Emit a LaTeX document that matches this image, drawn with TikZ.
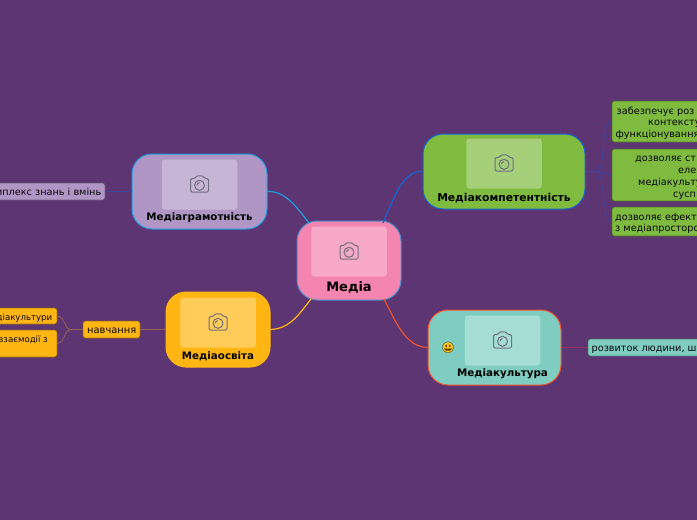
\documentclass[tikz,border=0pt]{standalone}
\usepackage{fontspec}
\setmainfont{DejaVu Sans}
\newfontfamily\emojifont{Noto Emoji}
\definecolor{bgc}{HTML}{5D3573}
\definecolor{pinkc}{HTML}{F485B0}
\definecolor{lilac}{HTML}{B096C5}
\definecolor{amber}{HTML}{FFB612}
\definecolor{greenc}{HTML}{7FBB3E}
\definecolor{tealc}{HTML}{7FCDC0}
\definecolor{camc}{HTML}{6F6F7F}
\definecolor{bdmedia}{HTML}{4A8CC8}
\definecolor{bdgram}{HTML}{1E9FE0}
\definecolor{bdkomp}{HTML}{1565D0}
\definecolor{bdkult}{HTML}{F0522A}
\definecolor{twigblue}{HTML}{3D459C}
\definecolor{twigbrown}{HTML}{93624F}
\definecolor{twigred}{HTML}{8E3060}
\tikzset{
  topicbox/.style={draw, line width=1pt, rounded corners=20pt, inner sep=0pt},
  picbox/.style={fill=white, fill opacity=.3, draw=none, rounded corners=3pt, minimum width=75.5pt, minimum height=50pt, inner sep=0pt},
  title/.style={font=\bfseries\fontsize{10.3}{12}\selectfont, text=black, inner sep=0pt},
  leafbox/.style={draw=black!45!#1, draw opacity=.8, fill=#1, line width=.7pt, rounded corners=2.5pt, inner sep=0pt},
  leaftxt/.style={font=\fontsize{9.7}{11}\selectfont, text=black!90!bgc, inner sep=0pt, anchor=base west},
  link/.style={line width=1.2pt},
  twig/.style={line width=.8pt}
}
\newcommand{\camicon}[2]{%
  \begin{scope}[shift={(#1,#2)}, camc, line width=1pt, line join=round]
    \draw[rounded corners=1.3pt] (-9,-6) -- (-4.5,-6) -- (-3,-8.7) -- (3.5,-8.7) -- (5,-6) -- (9,-6) -- (9,7.5) -- (-9,7.5) -- cycle;
    \draw (0,.8) circle (5pt);
    \draw (-2.6,.8) arc (180:90:2.6pt);
  \end{scope}}
\begin{document}
\begin{tikzpicture}[x=1pt,y=-1pt]
\useasboundingbox (0,0) rectangle (697,520);
\fill[bgc] (0,0) rectangle (697,520);
\clip (0,0) rectangle (697,520);

% main topics
\node[topicbox, fill=pinkc, draw=bdmedia, minimum width=104pt, minimum height=79pt] (media) at (349,260.5) {};
\node[topicbox, fill=lilac, draw=bdgram, minimum width=135pt, minimum height=75pt] (gram) at (199.5,191.5) {};
\node[topicbox, fill=amber, draw=amber, minimum width=104pt, minimum height=75pt] (osv) at (218,329.5) {};
\node[topicbox, fill=greenc, draw=bdkomp, minimum width=162pt, minimum height=75pt] (komp) at (504,171.5) {};
\node[topicbox, fill=tealc, draw=bdkult, minimum width=133pt, minimum height=75pt] (kult) at (494.5,347.5) {};

% picture placeholders
\node[picbox] (pm) at (349,251.5) {};
\node[picbox] (pg) at (199.5,184.5) {};
\node[picbox] (po) at (218,322.5) {};
\node[picbox] (pk) at (504,163.5) {};
\node[picbox] (pc) at (502.5,340.5) {};
\camicon{349}{251.5}
\camicon{199.5}{184.5}
\camicon{218}{322.5}
\camicon{504}{163.5}
\camicon{502.5}{340.5}

% titles
\node[title, font=\bfseries\fontsize{13}{15}\selectfont] (tm) at (349,287) {Медіа};
\node[title] (tg) at (199.5,218) {Медіаграмотність};
\node[title] (to) at (218,356) {Медіаосвіта};
\node[title, font=\bfseries\fontsize{10.75}{12}\selectfont] (tk) at (504,198) {Медіакомпетентність};
\node[title] (tc) at (502.5,374) {Медіакультура};

% emoji
\fill[amber!85!yellow] (448,347.6) circle (5.4pt);
\node[inner sep=0pt, text=black!80!amber, font=\emojifont\fontsize{11}{11}\selectfont] (smile) at (448,347.6) {😃};

% leaves
\node[leafbox=lilac, minimum width=125pt, minimum height=17pt] (l1) at (42.5,191.5) {};
\node[leaftxt, anchor=base east] (l1t) at (101.5,195) {комплекс знань і вмінь};

\node[leafbox=amber, minimum width=57pt, minimum height=17pt] (nav) at (111.5,329.5) {};
\node[leaftxt, font=\fontsize{9.9}{11}\selectfont] (navt) at (87,333) {навчання};

\node[leafbox=amber, minimum width=77pt, minimum height=16pt] (a1) at (18.5,316) {};
\node[leaftxt, anchor=base east, font=\fontsize{8.6}{10}\selectfont] (a1t) at (52.5,320) {медіакультури};
\node[leafbox=amber, minimum width=77pt, minimum height=27pt] (a2) at (18.5,343.5) {};
\node[leaftxt, anchor=base east, font=\fontsize{8.6}{10}\selectfont] (a2t) at (48,342) {взаємодії з};

\node[leafbox=greenc, minimum width=120pt, minimum height=41pt] (g1) at (672,121.5) {};
\node[leaftxt] (g1a) at (616.5,114) {забезпечує роз};
\node[leaftxt] (g1b) at (648,125.5) {контексту};
\node[leaftxt] (g1c) at (615.5,137.5) {функціонування};
\node[leafbox=greenc, minimum width=120pt, minimum height=52pt] (g2) at (672,175) {};
\node[leaftxt] (g2a) at (635,161.5) {дозволяє ст};
\node[leaftxt] (g2b) at (678,173) {еле};
\node[leaftxt] (g2c) at (638,185.5) {медіакульту};
\node[leaftxt] (g2d) at (673,197.5) {сусп};
\node[leafbox=greenc, minimum width=120pt, minimum height=29pt] (g3) at (672,221.5) {};
\node[leaftxt] (g3a) at (615,220) {дозволяє ефект};
\node[leaftxt] (g3b) at (615,231.5) {з медіапросторо};

\node[leafbox=tealc, minimum width=150pt, minimum height=17pt] (r1) at (663,347.5) {};
\node[leaftxt] (r1t) at (591.5,351) {розвиток людини, ш};

% connector ends
\coordinate (mtl) at (309,223);
\coordinate (mtr) at (383,223);
\coordinate (mbl) at (311,299);
\coordinate (mbr) at (384,299);
\coordinate (fk1) at (70,329.5);
\coordinate (fg1) at (597,171.5);

\draw[link, draw=bdgram] (gram.east) .. controls (285,191) and (295,205) .. (mtl);
\draw[link, draw=bdkomp] (komp.west) .. controls (403,171) and (395,195) .. (mtr);
\draw[link, draw=amber] (osv.east) .. controls (290,329) and (300,313) .. (mbl);
\draw[link, draw=bdkult] (kult.west) .. controls (405,347) and (395,320) .. (mbr);
\draw[link, draw=twigblue] (l1.east) -- (gram.west);
\draw[link, draw=twigbrown] (nav.east) -- (osv.west);
\draw[link, draw=twigbrown] (nav.west) -- (fk1);
\draw[twig, draw=twigbrown] (fk1) .. controls (64,329) and (66,317) .. (a1.east);
\draw[twig, draw=twigbrown] (fk1) .. controls (64,330) and (66,342) .. (a2.east);
\draw[link, draw=twigred] (kult.east) -- (r1.west);
\draw[link, draw=twigblue] (komp.east) -- (fg1);
\draw[twig, draw=twigblue] (fg1) .. controls (606,170) and (600,122) .. (g1.west);
\draw[twig, draw=twigblue] (fg1) .. controls (603,172) and (607,175) .. (g2.west);
\draw[twig, draw=twigblue] (fg1) .. controls (605,175) and (602,222) .. (g3.west);
\end{tikzpicture}
\end{document}
